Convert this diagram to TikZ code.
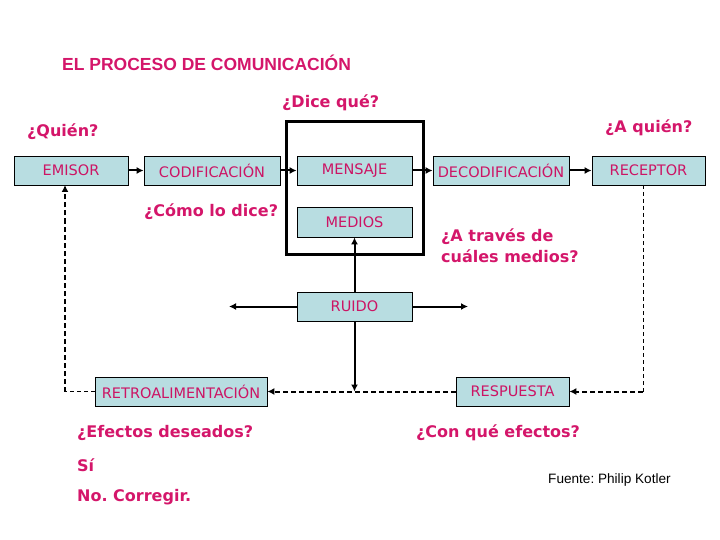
\documentclass[tikz,border=0pt]{standalone}
\usepackage{fontspec}
\setmainfont{DejaVu Sans}
\newfontfamily\libsans{Liberation Sans}
\usetikzlibrary{arrows.meta}
\frenchspacing
\definecolor{pinktxt}{RGB}{212,22,106}
\definecolor{boxtxt}{RGB}{204,20,100}
\definecolor{boxfill}{RGB}{184,221,225}
\tikzset{
  box/.style={draw=black, line width=0.8pt, fill=boxfill, minimum height=29pt,
    inner sep=0pt, text=boxtxt, font=\fontsize{14.5}{16}\selectfont},
  question/.style={anchor=west, inner sep=0pt, text=pinktxt,
    font=\fontsize{16}{21}\selectfont\bfseries},
  flow/.style={line width=2pt, -{Latex[length=7pt,width=7pt]}},
  dashthick/.style={line width=2pt, dash pattern=on 5pt off 3pt},
  dashthin/.style={line width=1pt, dash pattern=on 4pt off 3pt},
  tipend/.style={-{Latex[length=7pt,width=7pt]}},
  frame/.style={draw=black, line width=3pt, inner sep=0pt}
}
\begin{document}
\begin{tikzpicture}[x=1pt,y=-1pt]
\useasboundingbox (0,0) rectangle (720,540);
% frame around MENSAJE/MEDIOS
\node[frame, minimum width=137pt, minimum height=132pt] (frm) at (354.5,188) {};
% boxes
\node[box, minimum width=114pt] (emisor) at (71,170.5) {EMISOR};
\node[box, minimum width=136pt] (codif) at (212,170.5) {CODIFICACIÓN};
\node[box, minimum width=115pt] (mensaje) at (354.5,170.5) {MENSAJE};
\node[box, minimum width=115pt, minimum height=30pt] (medios) at (354.5,222) {MEDIOS};
\node[box, minimum width=136pt] (decod) at (501,170.5) {DECODIFICACIÓN};
\node[box, minimum width=113pt] (receptor) at (648.5,170.5) {RECEPTOR};
\node[box, minimum width=115pt] (ruido) at (354.5,306.5) {RUIDO};
\node[box, minimum width=172pt] (retro) at (181,391.5) {RETROALIMENTACIÓN};
\node[box, minimum width=113pt] (resp) at (512.5,391.5) {RESPUESTA};
% free ends
\coordinate (noiseL) at (229,306.5);
\coordinate (noiseR) at (468,306.5);
\coordinate (noiseD) at (354.5,391.5);
\coordinate (rc) at (643,391.5);
\coordinate (lc) at (65,391.5);
\coordinate (rtop) at (643,185);
\coordinate (ltop) at (65,185);
% main flow
\draw[flow] (emisor) -- (codif);
\draw[flow] (codif) -- (mensaje);
\draw[flow] (mensaje) -- (decod);
\draw[flow] (decod) -- (receptor);
% noise
\draw[flow] (ruido.north) -- (medios.south);
\draw[flow] (ruido.west) -- (noiseL);
\draw[flow] (ruido.east) -- (noiseR);
\draw[flow] (ruido.south) -- (noiseD);
% feedback
\draw[dashthin] (rtop) -- (rc);
\draw[dashthick, tipend] (rc) -- (resp.east);
\draw[dashthick, tipend] (resp.west) -- (retro.east);
\draw[dashthin] (retro.west) -- (lc);
\draw[dashthick, tipend] (lc) -- (ltop);
% texts
\node[anchor=west, inner sep=0pt, text=pinktxt, font=\libsans\fontsize{17.5}{20}\selectfont\bfseries] (title) at (62,63) {EL PROCESO DE COMUNICACIÓN};
\node[question] (qdice) at (282,103) {¿Dice qué?};
\node[question] (qquien) at (27,132) {¿Quién?};
\node[question] (qaquien) at (605,128) {¿A quién?};
\node[question] (qcomo) at (144,212) {¿Cómo lo dice?};
\node[question, align=left] (qtraves) at (441,245.5) {¿A través de\\cuáles medios?};
\node[question] (qefectos) at (77,433) {¿Efectos deseados?};
\node[question] (qsi) at (77,465) {Sí};
\node[question] (qno) at (77,497) {No. Corregir.};
\node[question] (qcon) at (416,433) {¿Con qué efectos?};
\node[anchor=west, inner sep=0pt, text=black, font=\libsans\fontsize{13.6}{15}\selectfont] (fuente) at (548,480) {Fuente: Philip Kotler};
\end{tikzpicture}
\end{document}
